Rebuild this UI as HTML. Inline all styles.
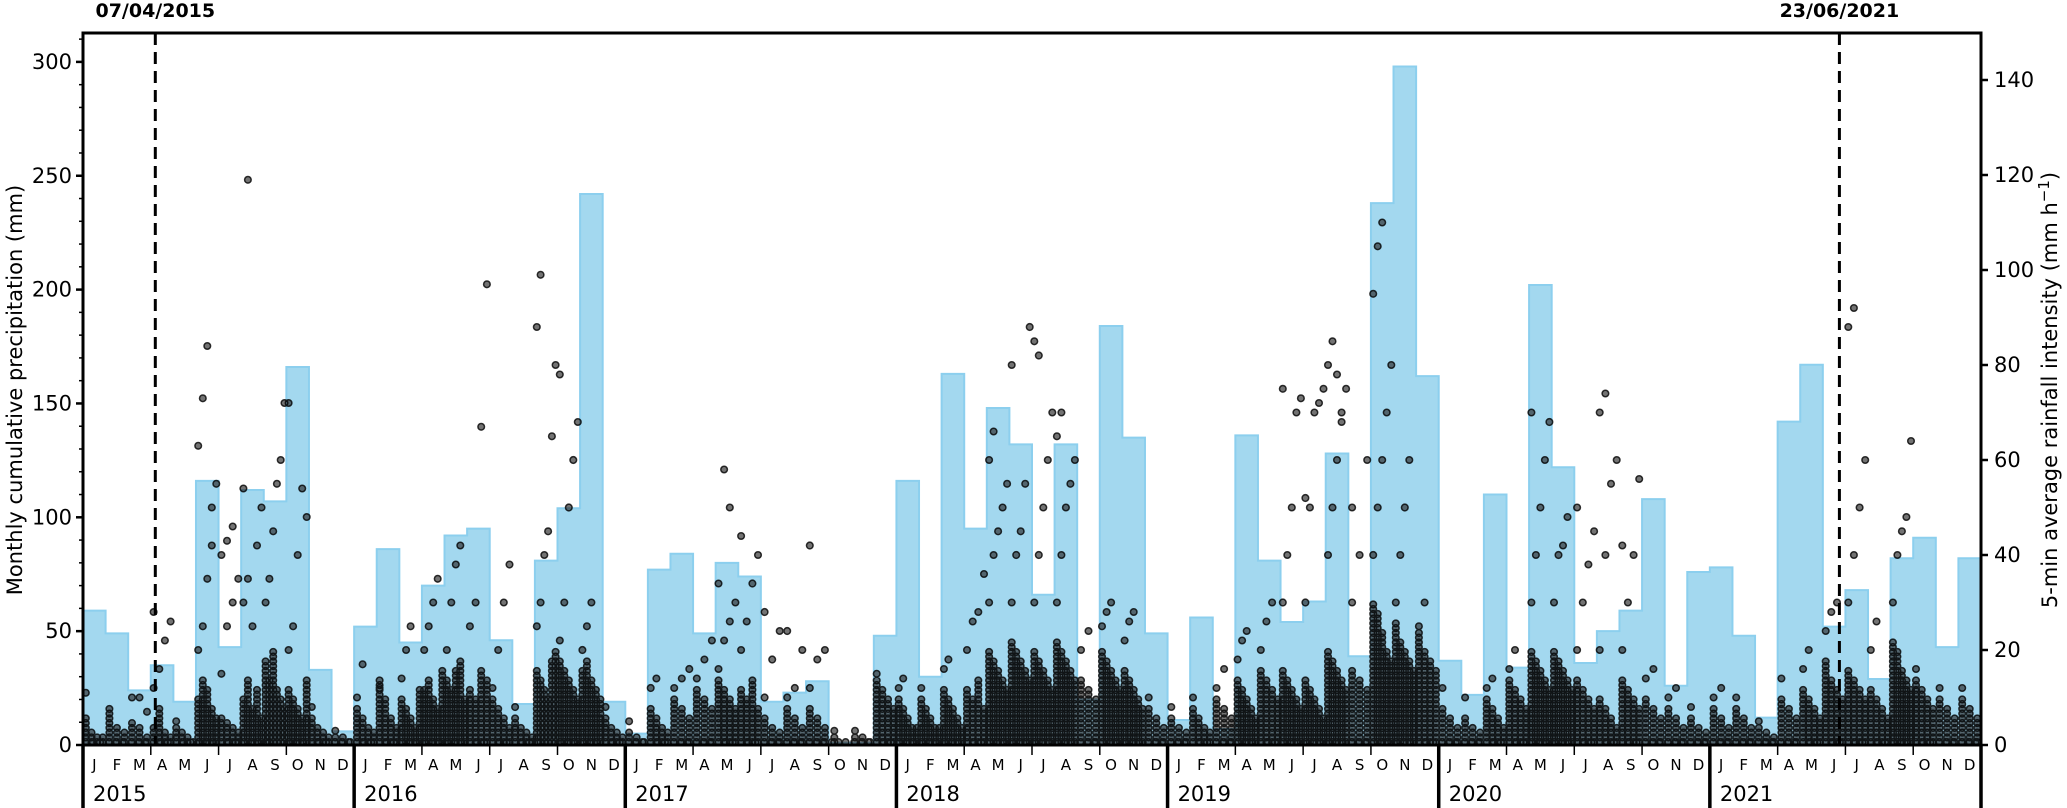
<!DOCTYPE html>
<html><head><meta charset="utf-8">
<style>
html,body{margin:0;padding:0;background:#fff;}
svg{display:block;font-family:"DejaVu Sans","Liberation Sans",sans-serif;}
</style></head>
<body>
<svg id="chart" width="2067" height="808" viewBox="0 0 2067 808" xmlns="http://www.w3.org/2000/svg">
<g id="bars"></g>
<g id="dots"></g>
<g id="axes"></g>
</svg>
<script>
const years = ["2015","2016","2017","2018","2019","2020","2021"];
const monthLetters = ["J","F","M","A","M","J","J","A","S","O","N","D"];
const monthlyPrecip = [
 59,49,24,35,19,116,43,112,107,166,33,6,
 52,86,45,70,92,95,46,18,81,104,242,19,
 5,77,84,49,80,74,19,23,28,1,1,48,
 116,30,163,95,148,132,66,132,20,184,135,49,
 11,56,7,136,81,54,63,128,39,238,298,162,
 37,22,110,34,202,122,36,50,59,108,26,76,
 78,48,12,142,167,52,68,29,82,91,43,82
];
const leftTicks = [0,50,100,150,200,250,300];
const rightTicks = [0,20,40,60,80,100,120,140];
const intensityColumns = [
 [6,3,2,2],[8,4,3],[5,4,2],[4,8,3,2],[4,3,2,1],[10,14,12,8,6],[6,5,4,3],[10,14,8,12,6],[18,14,20,12,10,8],[12,10,8,6,14],[6,4,3,2],[2,2,1],
 [8,6,4,3],[14,10,6,4],[10,8,6,4,12],[12,14,10,8,16],[14,12,16,18,10],[12,10,16,14],[10,8,6,4],[6,4,3,2],[16,14,12,10,18,20],[18,16,14,12,10],[16,18,14,12,10],[6,4,3,2],
 [3,2,1],[8,6,4,3],[10,8,6],[12,10,8],[14,12,10,8],[12,10,14,8],[6,4,3],[8,6,4],[8,6,4],[2,1],[2,2,1],[14,12,10,8],
 [10,8,6,4,4],[10,8,6,4,4],[12,10,8,6,4],[12,10,14,8],[20,18,16,14,12],[22,20,18,16,14],[20,18,16,14,12],[22,20,18,16,14],[14,12,10],[20,18,16,14,12],[16,14,12,10,8],[8,6,4],
 [6,4,3],[8,6,4,3],[10,8,6],[14,12,10,8,6],[16,14,12,10],[16,14,12,10,8],[14,12,10,8,6],[20,18,16,14,12],[16,14,12],[30,28,24,20,18],[26,22,20,18,16],[24,20,18,16],
 [8,6,4],[6,4,3],[10,8,6,4],[14,12,10,8],[20,18,16,14,12],[20,18,16,14,12],[14,12,10,8],[10,8,6,4],[14,12,10,8],[10,8,6],[8,6,4],[6,4,3],
 [8,6,4],[8,6,4],[4,3,2],[10,8,6],[12,10,8,6],[18,14,12,10],[16,14,12,10],[12,10,8,6],[22,20,16,14,12],[14,12,10,8],[10,8,6],[10,8,6]
];
const intensityOutliers = [
 [11],[],[10,10,7],[12,16,22,26,28],[5],[20,25,35,42,55,63,73,84,50],[15,25,30,35,40,43,46],[30,35,25,42,50,54,119],[30,35,45,55,60,72],[20,25,40,54,48,72],[8],[3],
 [10,17],[12],[14,20,25],[20,25,30,35],[20,30,38,42],[25,30,67,97],[12,20,30,38],[8],[25,30,40,45,65,80,88,99],[22,30,50,60,68,78],[20,25,30],[8],
 [5],[12,14],[12,14,16],[14,18,22],[16,22,26,30,34,58,50],[20,26,34,40,44],[10,18,24,28],[10,12,20,24],[12,18,20,42],[3],[3],[15],
 [12,14],[12],[16,18],[20,26,28,36],[30,40,45,50,55,60,66],[30,40,45,55,88,80],[30,40,50,60,70,85,82],[30,40,50,55,60,65,70],[20,24],[25,28,30],[22,26,28],[10],
 [8],[10],[12,16],[18,22,24],[20,26,30],[30,40,50,70,73,75],[30,50,70,72,75,52],[40,50,60,68,75,80,85,78,70],[30,40,60,50],[40,50,60,70,80,95,105,110],[30,40,50,60],[25,30],
 [12],[10],[12,14],[16,20],[30,40,50,60,68,70],[30,40,42,48],[20,30,38,45,50],[20,40,55,60,70,74],[20,30,40,56,42],[14,16],[10,12],[8],
 [10,12],[10],[5],[14],[16,20],[24,28,30],[30,40,50,60,88,92],[20,26],[30,40,45,48,64],[16],[12],[12]
];
const eventDates = [{label:"07/04/2015", m:3+6/30},{label:"23/06/2021", m:77+22/30}];

const NS="http://www.w3.org/2000/svg";
const X0=83, X1=1981, Y0=745, YT=33;
const nM=84, mW=(X1-X0)/nM;
const xM = m => X0 + m*mW;
const yL = v => Y0 - v*2.277;
const yR = v => Y0 - v*4.75;
function mk(tag, parent, attrs){const e=document.createElementNS(NS,tag);for(const k in attrs)e.setAttribute(k,attrs[k]);parent.appendChild(e);return e;}

const gb=document.getElementById('bars');
let d="M"+X0+","+Y0;
monthlyPrecip.forEach((v,i)=>{d+=" L"+xM(i)+","+yL(v)+" L"+xM(i+1)+","+yL(v);});
d+=" L"+X1+","+Y0+" Z";
const area=mk('path',gb,{d:d,fill:"#a3d8ef",stroke:"#8ccfee","stroke-width":"2"});



const gd=document.getElementById('dots');
let dd="";
const r=3.3;
function dot(x,y){dd+=`M${(x-r).toFixed(1)},${y.toFixed(1)}a${r},${r} 0 1,0 ${2*r},0a${r},${r} 0 1,0 ${-2*r},0`;}
for(let m=0;m<nM;m++){
  for(let x=xM(m)+3;x<xM(m+1);x+=7){dot(x,yR(0.6));}
  const cols=intensityColumns[m];
  const cx=j=>xM(m)+mW*(j+0.5)/cols.length;
  cols.forEach((h,j)=>{for(let v=0.6;v<=h;v+=1.0)dot(cx(j),yR(v));});
  const outs=intensityOutliers[m];
  outs.forEach((v,j)=>{dot(cx(j%cols.length),yR(v));});
}
const dp=mk('path',gd,{d:dd,fill:"rgba(40,40,40,0.65)",stroke:"#000","stroke-width":"1.5","stroke-opacity":"0.8"});



const ga=document.getElementById('axes');
const frame=mk('path',ga,{d:`M${X0},${Y0} L${X0},${YT} L${X1},${YT} L${X1},${Y0}`,fill:"none",stroke:"#000","stroke-width":"3"});


const xaxis=mk('line',ga,{x1:X0,y1:Y0,x2:X1,y2:Y0,stroke:"#000","stroke-width":"3"});


for(let v=0;v<=310;v+=10){mk('line',ga,{x1:X0-(v%50===0?7:4),y1:yL(v),x2:X0,y2:yL(v),stroke:"#000","stroke-width":v%50===0?"2.5":"1.5"});}
leftTicks.forEach(v=>{const t=mk('text',ga,{x:X0-11,y:yL(v)+7,"text-anchor":"end","font-size":"21"});t.textContent=v;
 
 });
rightTicks.forEach(v=>{mk('line',ga,{x1:X1,y1:yR(v),x2:X1+7,y2:yR(v),stroke:"#000","stroke-width":"2.5"});
 const t=mk('text',ga,{x:X1+13,y:yR(v)+7,"font-size":"21"});t.textContent=v;
 
 });
for(let m=0;m<nM;m++){
  const t=mk('text',ga,{x:xM(m)+mW/2,y:770,"text-anchor":"middle","font-size":"15"});t.textContent=monthLetters[m%12];
  
  
  if(m%3===0 && m%12!==0) mk('line',ga,{x1:xM(m),y1:Y0,x2:xM(m),y2:755,stroke:"#000","stroke-width":"1.5"});
}
years.forEach((y,i)=>{
  const t=mk('text',ga,{x:xM(i*12)+10,y:801,"font-size":"21"});t.textContent=y;
  
  
});
for(let i=0;i<=years.length;i++){const l=mk('line',ga,{x1:xM(i*12),y1:Y0,x2:xM(i*12),y2:808,stroke:"#000","stroke-width":"3.5"});
 
 }
eventDates.forEach(e=>{
  const x=xM(e.m);
  const l=mk('line',ga,{x1:x,y1:YT,x2:x,y2:Y0,stroke:"#000","stroke-width":"3","stroke-dasharray":"12,7"});
  
  
  const t=mk('text',ga,{x:x,y:17,"text-anchor":"middle","font-size":"19","font-weight":"bold"});t.textContent=e.label;
  
  
});
const lt=mk('text',ga,{x:0,y:0,"text-anchor":"middle","font-size":"21",transform:"translate(22,390) rotate(-90)"});
lt.textContent="Monthly cumulative precipitation (mm)";


const rt=mk('text',ga,{x:0,y:0,"text-anchor":"middle","font-size":"21",transform:"translate(2057,390) rotate(-90)"});
rt.innerHTML='5-min average rainfall intensity (mm h<tspan dy="-8" font-size="15">−1</tspan><tspan dy="8">)</tspan>';


</script>
</body></html>
